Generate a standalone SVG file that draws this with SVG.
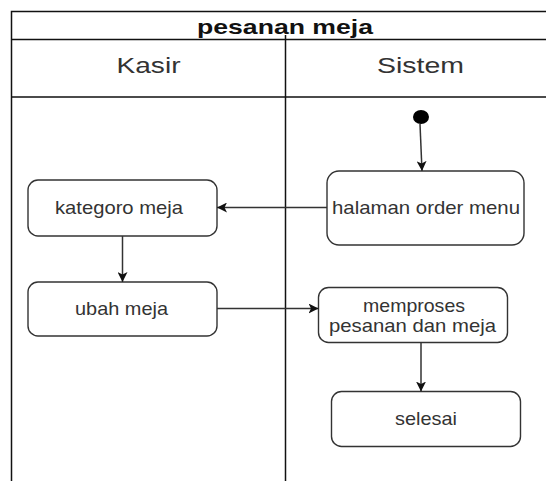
<svg xmlns="http://www.w3.org/2000/svg" width="546" height="481" viewBox="0 0 546 481">
<style>
.frame{fill:none;stroke:#111;stroke-width:1.5}
.box{fill:#fff;stroke:#333;stroke-width:1.4}
.t{font-family:"Liberation Sans",Arial,sans-serif;font-size:19px;fill:#333;text-anchor:middle}
.h{font-family:"Liberation Sans",Arial,sans-serif;font-size:22px;fill:#333;text-anchor:middle}
.title{font-family:"Liberation Sans",Arial,sans-serif;font-size:21px;font-weight:bold;fill:#111;text-anchor:middle}
.c{fill:none;stroke:#333;stroke-width:1.5}
</style>
<defs>
<marker id="ah" viewBox="0 0 10 10" refX="10" refY="5" markerWidth="10" markerHeight="10" markerUnits="userSpaceOnUse" orient="auto">
<path d="M0,0 L10,5 L0,10 L2.5,5 Z" fill="#111"/>
</marker>
</defs>
<rect width="546" height="481" fill="#fff"/>
<g id="pool">
<path class="frame" d="M11.5,481 V11.5 H546 M11.5,39.5 H546 M11.5,97 H546 M285.5,35 V481"/>
<text class="title" x="285" y="34" textLength="176" lengthAdjust="spacingAndGlyphs">pesanan meja</text>
<text class="h" x="148.5" y="72.7" textLength="64" lengthAdjust="spacingAndGlyphs">Kasir</text>
<text class="h" x="420.5" y="72.7" textLength="87" lengthAdjust="spacingAndGlyphs">Sistem</text>
</g>
<g id="start">
<ellipse cx="421" cy="117" rx="8" ry="7" fill="#000"/>
</g>
<g id="halaman">
<rect class="box" x="327" y="171" width="197" height="74" rx="12"/>
<text class="t" x="426" y="214" textLength="188" lengthAdjust="spacingAndGlyphs">halaman order menu</text>
</g>
<g id="kategoro">
<rect class="box" x="28" y="180" width="189" height="56" rx="10"/>
<text class="t" x="119" y="214" textLength="128" lengthAdjust="spacingAndGlyphs">kategoro meja</text>
</g>
<g id="ubah">
<rect class="box" x="28" y="282" width="189" height="54" rx="10"/>
<text class="t" x="121.5" y="315" textLength="93" lengthAdjust="spacingAndGlyphs">ubah meja</text>
</g>
<g id="memproses">
<rect class="box" x="318.5" y="287.5" width="189" height="55" rx="10"/>
<text class="t" x="414" y="312" textLength="102" lengthAdjust="spacingAndGlyphs">memproses</text>
<text class="t" x="412.5" y="332" textLength="167" lengthAdjust="spacingAndGlyphs">pesanan dan meja</text>
</g>
<g id="selesai">
<rect class="box" x="331.5" y="391.5" width="189" height="55" rx="10"/>
<text class="t" x="426" y="425" textLength="62" lengthAdjust="spacingAndGlyphs">selesai</text>
</g>
<g id="connectors">
<path class="c" d="M420,124 L422,171" marker-end="url(#ah)"/>
<path class="c" d="M327,207.5 H217" marker-end="url(#ah)"/>
<path class="c" d="M122.5,236 V282" marker-end="url(#ah)"/>
<path class="c" d="M217,308.5 H318.5" marker-end="url(#ah)"/>
<path class="c" d="M421,342.5 V391.5" marker-end="url(#ah)"/>
</g>
</svg>
